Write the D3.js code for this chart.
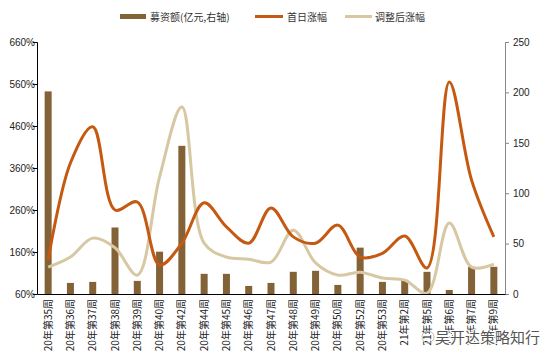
<!DOCTYPE html>
<html>
<head>
<meta charset="utf-8">
<script src="https://cdn.jsdelivr.net/npm/d3@7"></script>
<style>
  body { margin: 0; background: #fff; }
  text { font-family: "Noto Sans CJK SC", "DejaVu Sans", sans-serif; }
</style>
</head>
<body>
<svg width="543" height="362"></svg>
<script>
var svg = d3.select("svg"),
    width = +svg.attr("width"),
    height = +svg.attr("height");

var weeks = ["20年第35周","20年第36周","20年第37周","20年第38周","20年第39周","20年第40周","20年第42周",
  "20年第44周","20年第45周","20年第46周","20年第47周","20年第48周","20年第49周","20年第50周",
  "20年第52周","20年第53周","21年第2周","21年第5周","21年第6周","21年第7周","21年第9周"];
var raised = [201, 11, 12, 66, 13, 42, 147, 20, 20, 8, 11, 22, 23, 9, 46, 12, 14, 22, 4, 27, 27];
var firstDay = [141, 372, 458, 260, 279, 129, 181, 277, 220, 181, 265, 196, 181, 224, 148, 157, 198, 122, 565, 331, 196];
var adjusted = [124, 148, 193, 170, 105, 339, 505, 181, 148, 143, 136, 212, 134, 105, 112, 98, 93, 62, 229, 124, 131];
var leftTicks = [60, 160, 260, 360, 460, 560, 660];
var rightTicks = [0, 50, 100, 150, 200, 250];

var plotLeft = 37, plotRight = 505, plotTop = 42, plotBottom = 294;

var x = d3.scaleBand().domain(weeks).range([plotLeft, plotRight]);
var yL = d3.scaleLinear().domain([60, 660]).range([plotBottom, plotTop]);
var yR = d3.scaleLinear().domain([0, 250]).range([plotBottom, plotTop]);

// bars
svg.append("g").selectAll("rect").data(raised).enter().append("rect")
  .attr("x", (d, i) => x(weeks[i]) + x.bandwidth() / 2 - 3.5)
  .attr("width", 7)
  .attr("y", d => yR(d))
  .attr("height", d => plotBottom - yR(d))
  .attr("fill", "#846237");

var line = function(yScale) {
  return d3.line()
    .x((d, i) => x(weeks[i]) + x.bandwidth() / 2)
    .y(d => yScale(d))
    .curve(d3.curveCatmullRom.alpha(0.5));
};

svg.append("path").datum(adjusted)
  .attr("d", line(yL))
  .attr("fill", "none")
  .attr("stroke", "#D8C7A3")
  .attr("stroke-width", 3);

svg.append("path").datum(firstDay)
  .attr("d", line(yL))
  .attr("fill", "none")
  .attr("stroke", "#C65911")
  .attr("stroke-width", 3);

// left axis
var gL = svg.append("g").attr("transform", "translate(" + plotLeft + ",0)")
  .call(d3.axisLeft(yL).tickValues(leftTicks).tickFormat(d => d + "%").tickSizeOuter(0).tickSize(4));
gL.select(".domain").attr("stroke", "#000");
gL.selectAll("text").attr("font-size", 10).attr("fill", "#222").attr("x", -2).style("font-family", "Liberation Sans, Arial, sans-serif");

// right axis
var gR = svg.append("g").attr("transform", "translate(" + plotRight + ",0)")
  .call(d3.axisRight(yR).tickValues(rightTicks).tickSizeOuter(0).tickSize(4));
gR.select(".domain").attr("stroke", "#888");
gR.selectAll("line").attr("stroke", "#888");
gR.selectAll("text").attr("font-size", 10).attr("fill", "#222").attr("x", 8).style("font-family", "Liberation Sans, Arial, sans-serif");

// bottom axis
var gB = svg.append("g").attr("transform", "translate(0," + plotBottom + ")")
  .call(d3.axisBottom(x).tickSize(0).tickSizeOuter(0));
gB.select(".domain").attr("stroke", "#000").attr("stroke-width", 1.2);
gB.selectAll("text")
  .attr("font-size", 10)
  .attr("fill", "#222")
  .attr("transform", "rotate(-90)")
  .attr("text-anchor", "end")
  .attr("x", -5)
  .attr("y", 0)
  .attr("dy", "0.35em");

// legend
var legend = svg.append("g").attr("font-size", 10).attr("fill", "#333");
legend.append("rect").attr("x", 120).attr("y", 14).attr("width", 26).attr("height", 5).attr("fill", "#846237");
legend.append("text").attr("x", 150).attr("y", 21).text("募资额(亿元,右轴)");
legend.append("line").attr("x1", 255).attr("x2", 283).attr("y1", 16.5).attr("y2", 16.5).attr("stroke", "#C65911").attr("stroke-width", 3);
legend.append("text").attr("x", 287).attr("y", 21).text("首日涨幅");
legend.append("line").attr("x1", 345).attr("x2", 372).attr("y1", 16.5).attr("y2", 16.5).attr("stroke", "#D8C7A3").attr("stroke-width", 3);
legend.append("text").attr("x", 375).attr("y", 21).text("调整后涨幅");

// watermark
svg.append("circle").attr("cx", 428).attr("cy", 337).attr("r", 6)
  .attr("fill", "none").attr("stroke", "#bbb").attr("stroke-width", 1);
svg.append("text").attr("x", 435).attr("y", 343).attr("font-size", 15)
  .attr("fill", "#555").attr("stroke", "#fff").attr("stroke-width", 2).attr("paint-order", "stroke")
  .text("吴开达策略知行");
</script>
</body>
</html>
